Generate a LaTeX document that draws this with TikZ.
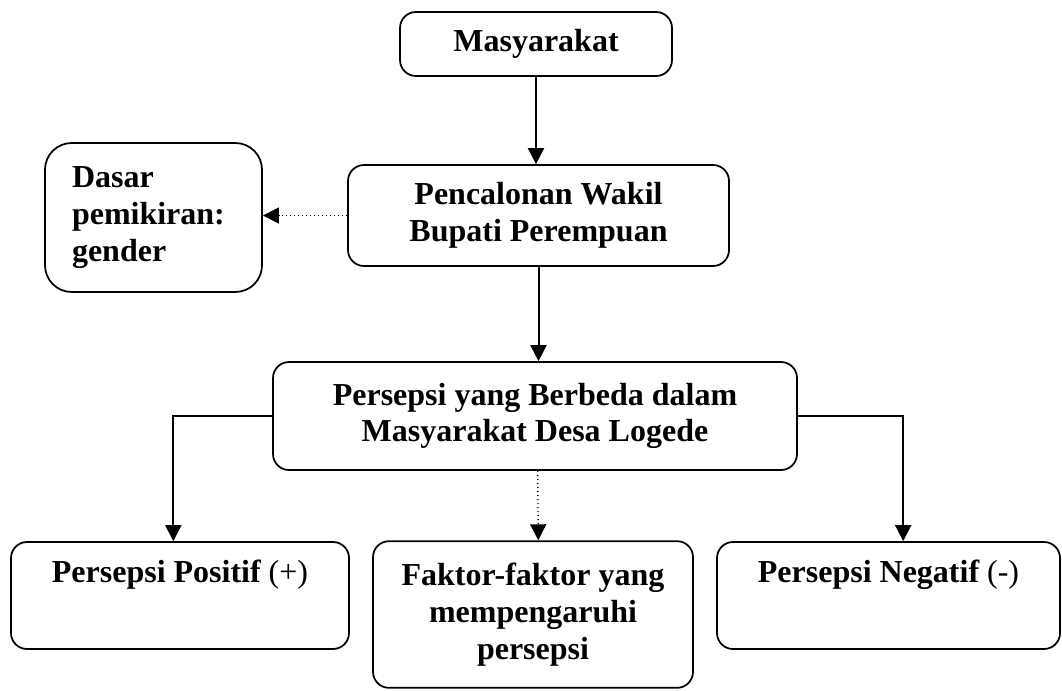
\documentclass[tikz,border=0pt]{standalone}
\usepackage{fontspec}
\setmainfont{Liberation Serif}
\usetikzlibrary{arrows.meta,positioning}

\begin{document}
\begin{tikzpicture}[x=0.75pt,y=-0.75pt,
    box/.style={draw,rounded corners=12pt,line width=1.3pt,align=center,
                font=\fontsize{24}{27.6}\selectfont\bfseries,inner sep=2pt},
    arr/.style={-{Triangle[length=12pt,width=12pt]},line width=1.5pt},
    dot/.style={-{Triangle[length=12pt,width=12pt]},dotted,line width=1pt}]

    \useasboundingbox (0,0) rectangle (1062,690);

    \node[box,minimum width=204pt,minimum height=48pt] (mas) at (536,44) {Masyarakat};
    \node[box,minimum width=285.75pt,minimum height=75.75pt] (pen) at (538.5,215.5)
      {Pencalonan Wakil\\Bupati Perempuan};
    \node[box,align=left,rounded corners=20pt,text width=122.25pt,inner xsep=20.25pt,
          minimum height=111.75pt] (dasar) at (153.5,217.5) {Dasar\\pemikiran:\\gender};
    \node[box,minimum width=393pt,minimum height=81pt] (beda) at (535,416)
      {Persepsi yang Berbeda dalam\\Masyarakat Desa Logede};

    \node[box,minimum width=253.5pt,minimum height=80.25pt] (pos) at (180,595.5)
      {Persepsi Positif {\mdseries(+)}\\\strut};
    \node[box,minimum width=240pt,minimum height=110pt] (fak) at (533,614.5)
      {Faktor-faktor yang\\mempengaruhi\\persepsi};
    \node[box,minimum width=257.25pt,minimum height=80.25pt] (neg) at (888.5,595.5)
      {Persepsi Negatif {\mdseries(-)}\\\strut};

    \draw[arr] (mas.south) -- (mas.south |- pen.north);
    \draw[dot] (pen.west) -- (pen.west -| dasar.east);
    \draw[arr] (pen.south) -- (pen.south |- beda.north);
    \draw[arr] (beda.west) -| ([xshift=-5pt]pos.north);
    \draw[arr] (beda.east) -| ([xshift=11pt]neg.north);
    \draw[dot] ([xshift=2pt]beda.south) -- ([xshift=4pt]fak.north);
\end{tikzpicture}
\end{document}
